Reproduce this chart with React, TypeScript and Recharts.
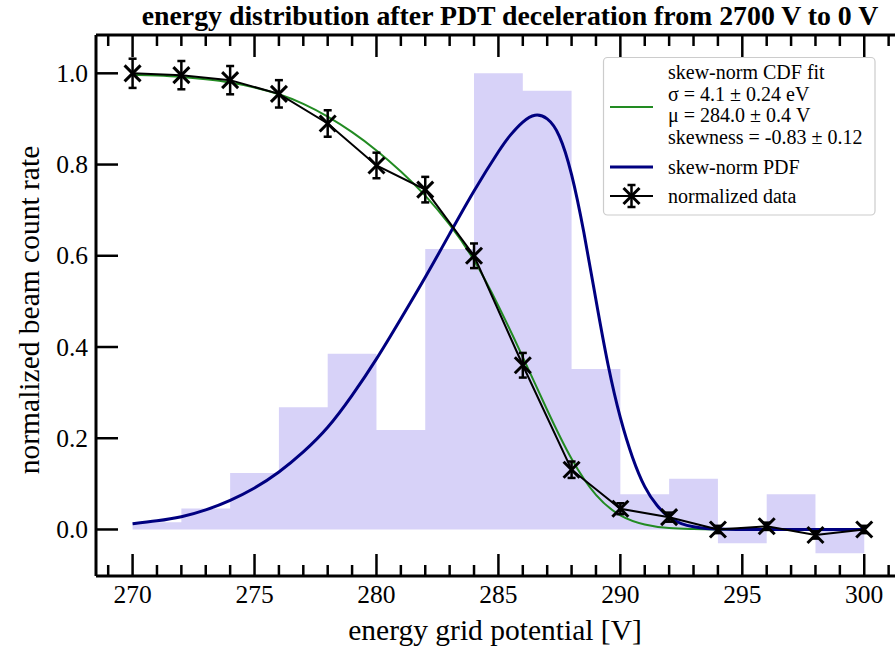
import React from 'react';
import { ComposedChart, Line, Area, XAxis, YAxis, ErrorBar } from 'recharts';

// ---- data ----
const dataVoltages = [270, 272, 274, 276, 278, 280, 282, 284, 286, 288, 290, 292, 294, 296, 298, 300];
const dataRates = [1.0, 0.996, 0.985, 0.955, 0.89, 0.798, 0.745, 0.6, 0.36, 0.131, 0.0455, 0.027, 0.0, 0.007, -0.012, 0.0];
const dataErrors = [0.032, 0.031, 0.031, 0.03, 0.029, 0.028, 0.028, 0.027, 0.027, 0.018, 0.012, 0.01, 0.008, 0.008, 0.008, 0.008];

const histEdges = [270, 272, 274, 276, 278, 280, 282, 284, 286, 288, 290, 292, 294, 296, 298, 300];
const histHeights = [0.016, 0.046, 0.124, 0.268, 0.385, 0.218, 0.615, 1.0, 0.962, 0.352, 0.077, 0.111, -0.03, 0.077, -0.052];

const cdfVoltages = [270, 271, 272, 273, 274, 275, 276, 277, 278, 279, 280, 281, 282, 283, 284, 285, 286, 287, 288, 289, 290, 291, 292, 293, 294, 295, 296, 297, 298, 299, 300];
const cdfValues = [0.997, 0.995, 0.992, 0.987, 0.98, 0.969, 0.954, 0.933, 0.905, 0.871, 0.831, 0.785, 0.732, 0.668, 0.59, 0.49, 0.378, 0.262, 0.155, 0.076, 0.031, 0.011, 0.003, 0.001, 0.0, 0.0, 0.0, 0.0, 0.0, 0.0, 0.0];

const pdfVoltages = [270, 271, 272, 273, 274, 275, 276, 277, 278, 279, 280, 281, 282, 283, 284, 285, 285.5, 286, 286.5, 287, 287.5, 288, 288.5, 289, 289.5, 290, 290.5, 291, 291.5, 292, 292.5, 293, 293.5, 294, 295, 296, 297, 298, 299, 300];
const pdfValues = [0.0125, 0.019, 0.028, 0.043, 0.064, 0.091, 0.126, 0.17, 0.224, 0.294, 0.374, 0.462, 0.553, 0.648, 0.742, 0.828, 0.865, 0.893, 0.908, 0.9, 0.862, 0.778, 0.652, 0.503, 0.36, 0.245, 0.158, 0.094, 0.053, 0.027, 0.013, 0.006, 0.002, 0.001, 0.0, 0.0, 0.0, 0.0, 0.0, 0.0];

const xTicks = [269, 270, 271, 272, 273, 274, 275, 276, 277, 278, 279, 280, 281, 282, 283, 284, 285, 286, 287, 288, 289, 290, 291, 292, 293, 294, 295, 296, 297, 298, 299, 300, 301, 302];
const xMajorTicks = [270, 275, 280, 285, 290, 295, 300];
const yTicks = [0.0, 0.2, 0.4, 0.6, 0.8, 1.0];

const titleText = 'energy distribution after PDT deceleration from 2700 V to 0 V';
const xLabel = 'energy grid potential [V]';
const yLabel = 'normalized beam count rate';
const legendCdf = ['skew-norm CDF fit', 'σ = 4.1 ± 0.24 eV', 'μ = 284.0 ± 0.4 V', 'skewness = -0.83 ± 0.12'];
const legendPdf = 'skew-norm PDF';
const legendData = 'normalized data';

// ---- derived tables ----
const pointData = dataVoltages.map((x, i) => ({ x, y: dataRates[i], err: dataErrors[i] }));
const histData = histEdges.map((x, i) => ({ x, h: histHeights[Math.min(i, histHeights.length - 1)] }));
const cdfData = cdfVoltages.map((x, i) => ({ x, c: cdfValues[i] }));
const pdfData = pdfVoltages.map((x, i) => ({ x, p: pdfValues[i] }));

const FONT = "'Liberation Serif', 'Times New Roman', serif";
const W = 940;
const H = 657;
const X_DOMAIN: [number, number] = [268.5, 302.45];
const Y_DOMAIN: [number, number] = [-0.102, 1.084];
const MAJOR = 22;
const MINOR = 11;
const TW = 2.5;
const TICK_FS = 25.5;

const BottomTick = (props: any) => {
  const { x, y, payload } = props;
  const v = payload.value;
  const major = xMajorTicks.indexOf(v) >= 0;
  return (
    <g>
      <line x1={x} y1={y} x2={x} y2={y - (major ? MAJOR : MINOR)} stroke="#000" strokeWidth={TW} />
      {major && (
        <text x={x} y={y + 27} textAnchor="middle" fontSize={TICK_FS} fontFamily={FONT} fill="#000">
          {v}
        </text>
      )}
    </g>
  );
};

const TopTick = (props: any) => {
  const { x, y, payload } = props;
  const major = xMajorTicks.indexOf(payload.value) >= 0;
  return <line x1={x} y1={y} x2={x} y2={y + (major ? MAJOR : MINOR)} stroke="#000" strokeWidth={TW} />;
};

const LeftTick = (props: any) => {
  const { x, y, payload } = props;
  return (
    <g>
      <line x1={x} y1={y} x2={x + MAJOR} y2={y} stroke="#000" strokeWidth={TW} />
      <text x={x - 8} y={y + 8.5} textAnchor="end" fontSize={TICK_FS} fontFamily={FONT} fill="#000">
        {Number(payload.value).toFixed(1)}
      </text>
    </g>
  );
};

const RightTick = (props: any) => {
  const { x, y } = props;
  return <line x1={x} y1={y} x2={x - MAJOR} y2={y} stroke="#000" strokeWidth={TW} />;
};

const XMark = (props: any) => {
  const { cx, cy } = props;
  if (cx == null || cy == null) return <g />;
  const s = 8;
  return (
    <g>
      <line x1={cx - s} y1={cy - s} x2={cx + s} y2={cy + s} stroke="#000" strokeWidth={3} />
      <line x1={cx - s} y1={cy + s} x2={cx + s} y2={cy - s} stroke="#000" strokeWidth={3} />
    </g>
  );
};

const Overlay = () => {
  const lx = 668;
  return (
    <svg width={895} height={657} style={{ position: 'absolute', left: 0, top: 0, pointerEvents: 'none' }}>
      <text x={510} y={25} textAnchor="middle" fontSize={27.8} fontWeight="bold" fontFamily={FONT} fill="#000">
        {titleText}
      </text>
      <text x={495} y={640} textAnchor="middle" fontSize={29.5} fontFamily={FONT} fill="#000">
        {xLabel}
      </text>
      <text
        x={0}
        y={0}
        transform="translate(39 310) rotate(-90)"
        textAnchor="middle"
        fontSize={29.5}
        fontFamily={FONT}
        fill="#000"
      >
        {yLabel}
      </text>
      <g>
        <rect x={603.5} y={57.5} width={271.5} height={157.5} rx={4} ry={4} fill="#fff" fillOpacity={0.8} stroke="#cccccc" strokeWidth={1.2} />
        <line x1={610} y1={107} x2={653} y2={107} stroke="#228B22" strokeWidth={2} />
        {legendCdf.map((t, i) => (
          <text key={t} x={lx} y={79 + i * 21.5} fontSize={20} fontFamily={FONT} fill="#000">
            {t}
          </text>
        ))}
        <line x1={610} y1={167} x2={653} y2={167} stroke="#000080" strokeWidth={3} />
        <text x={lx} y={174} fontSize={20} fontFamily={FONT} fill="#000">
          {legendPdf}
        </text>
        <line x1={610} y1={196} x2={653} y2={196} stroke="#000" strokeWidth={2} />
        <line x1={631.5} y1={185} x2={631.5} y2={207} stroke="#000" strokeWidth={2.5} />
        <line x1={627.5} y1={185} x2={635.5} y2={185} stroke="#000" strokeWidth={2.5} />
        <line x1={627.5} y1={207} x2={635.5} y2={207} stroke="#000" strokeWidth={2.5} />
        <XMark cx={631.5} cy={196} />
        <text x={lx} y={203} fontSize={20} fontFamily={FONT} fill="#000">
          {legendData}
        </text>
      </g>
    </svg>
  );
};

export default function App() {
  return (
    <div style={{ position: 'absolute', left: 0, top: 0, width: 895, height: 657, overflow: 'hidden', background: '#fff' }}>
      <ComposedChart width={W} height={H} margin={{ top: 0, right: 0, bottom: 0, left: 0 }}>
        <XAxis
          xAxisId="b"
          dataKey="x"
          type="number"
          orientation="bottom"
          domain={X_DOMAIN}
          allowDataOverflow
          ticks={xTicks}
          interval={0}
          height={81}
          tickSize={0}
          tickMargin={0}
          tickLine={false}
          axisLine={{ stroke: '#000', strokeWidth: 3 }}
          tick={<BottomTick />}
        />
        <XAxis
          xAxisId="t"
          dataKey="x"
          type="number"
          orientation="top"
          domain={X_DOMAIN}
          allowDataOverflow
          ticks={xTicks}
          interval={0}
          height={35}
          tickSize={0}
          tickMargin={0}
          tickLine={false}
          axisLine={{ stroke: '#000', strokeWidth: 3 }}
          tick={<TopTick />}
        />
        <YAxis
          yAxisId="l"
          type="number"
          orientation="left"
          domain={Y_DOMAIN}
          allowDataOverflow
          ticks={yTicks}
          interval={0}
          width={96}
          tickSize={0}
          tickMargin={0}
          tickLine={false}
          axisLine={{ stroke: '#000', strokeWidth: 3 }}
          tick={<LeftTick />}
        />
        <YAxis
          yAxisId="r"
          type="number"
          orientation="right"
          domain={Y_DOMAIN}
          allowDataOverflow
          ticks={yTicks}
          interval={0}
          width={16}
          tickSize={0}
          tickMargin={0}
          tickLine={false}
          axisLine={{ stroke: '#000', strokeWidth: 3 }}
          tick={<RightTick />}
        />
        <Area
          data={histData}
          xAxisId="b"
          yAxisId="l"
          dataKey="h"
          type="stepAfter"
          baseValue={0}
          fill="rgb(215,210,248)"
          fillOpacity={1}
          stroke="none"
          isAnimationActive={false}
          dot={false}
          activeDot={false}
        />
        <Line
          data={cdfData}
          xAxisId="b"
          yAxisId="l"
          dataKey="c"
          type="natural"
          stroke="#228B22"
          strokeWidth={2}
          dot={false}
          activeDot={false}
          isAnimationActive={false}
        />
        <Line
          data={pdfData}
          xAxisId="b"
          yAxisId="l"
          dataKey="p"
          type="natural"
          stroke="#000080"
          strokeWidth={3}
          dot={false}
          activeDot={false}
          isAnimationActive={false}
        />
        <Line
          data={pointData}
          xAxisId="b"
          yAxisId="l"
          dataKey="y"
          type="linear"
          stroke="#000"
          strokeWidth={2}
          dot={(p: any) => <XMark key={`m${p.index}`} cx={p.cx} cy={p.cy} />}
          activeDot={false}
          isAnimationActive={false}
        >
          <ErrorBar dataKey="err" direction="y" width={4} strokeWidth={2.5} stroke="#000" isAnimationActive={false} />
        </Line>
        <Line
          data={pointData}
          xAxisId="t"
          yAxisId="r"
          dataKey="y"
          stroke="none"
          dot={false}
          activeDot={false}
          legendType="none"
          isAnimationActive={false}
        />
      </ComposedChart>
      <Overlay />
    </div>
  );
}
